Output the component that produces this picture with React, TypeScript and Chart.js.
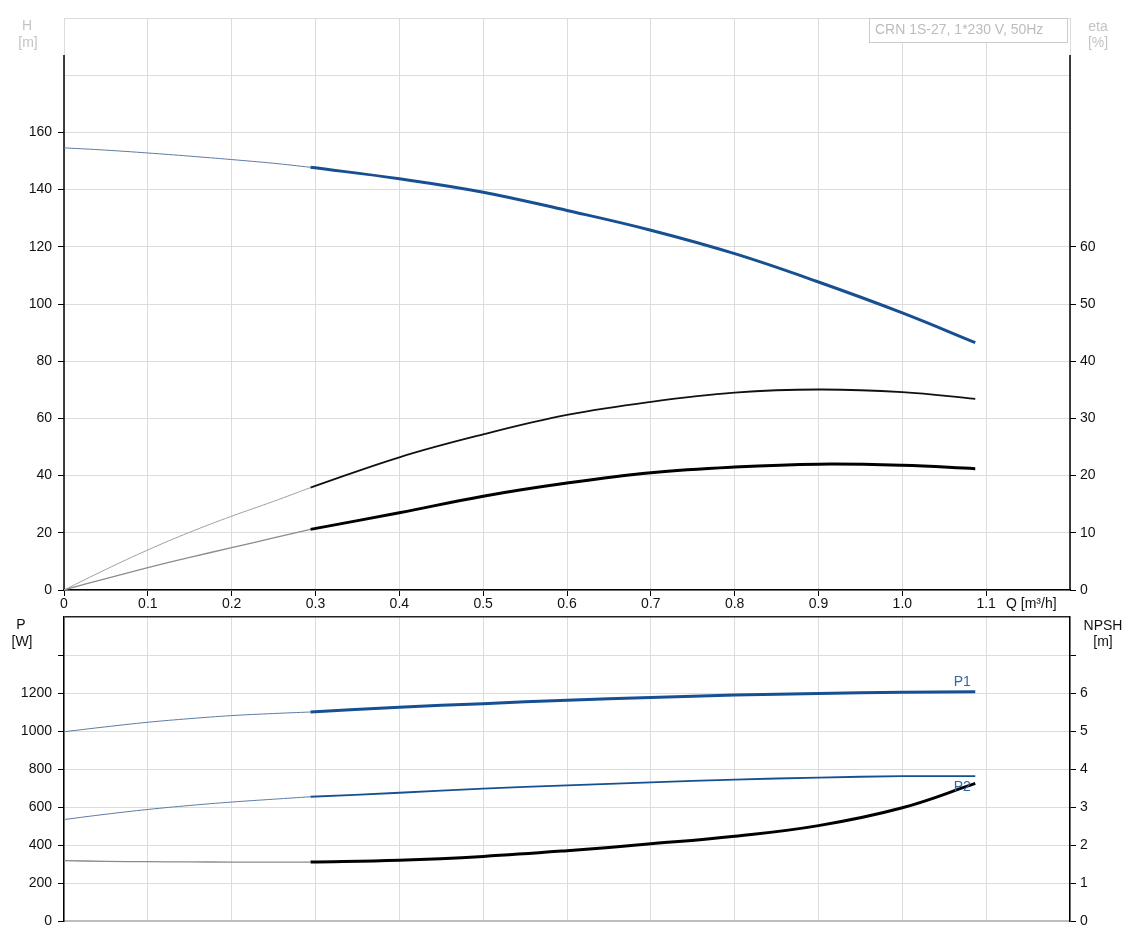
import React, { useEffect, useRef } from "react";
import { Chart, registerables } from "chart.js";
Chart.register(...registerables);

// Flow values (m³/h): thin (extrapolated) part and thick (operating range) part
const qThin = [0, 0.05, 0.1, 0.15, 0.2, 0.25, 0.294];
const qThick = [0.294, 0.4, 0.5, 0.6, 0.7, 0.8, 0.9, 1.0, 1.087];

// Head H [m]
const hThin = [154.6, 153.8, 152.8, 151.7, 150.5, 149.2, 147.8];
const hThick = [147.8, 143.8, 139.1, 132.7, 125.8, 117.6, 107.7, 96.9, 86.5];

// Efficiency eta [%] (upper and lower curves)
const etaThin = [0, 3.6, 7.0, 10.1, 12.9, 15.5, 17.9];
const etaThick = [17.9, 23.2, 27.2, 30.6, 32.9, 34.5, 35.05, 34.6, 33.4];
const eta2Thin = [0, 2.0, 3.9, 5.7, 7.4, 9.1, 10.6];
const eta2Thick = [10.6, 13.5, 16.4, 18.7, 20.5, 21.5, 22.0, 21.8, 21.2];

// Power P [W]
const p1Thin = [996, 1022, 1046, 1065, 1081, 1092, 1100];
const p1Thick = [1100, 1125, 1144, 1162, 1176, 1189, 1197, 1204, 1206];
const p2Thin = [534, 562, 587, 608, 626, 641, 654];
const p2Thick = [654, 675, 697, 714, 730, 744, 755, 762, 763];

// NPSH [m]
const npshThin = [1.59, 1.57, 1.56, 1.555, 1.55, 1.55, 1.55];
const npshThick = [1.55, 1.6, 1.7, 1.85, 2.03, 2.23, 2.51, 2.98, 3.62];

const legendText = "CRN 1S-27, 1*230 V, 50Hz";

const FONT_FAMILY = "Arial, 'Liberation Sans', sans-serif";
const GRID = "#dcdcdc";
const BLUE = "#175092";

function seg(q: number[], v: number[]) {
  return q.map((x, i) => ({ x, y: v[i] }));
}

function line(data: any, color: string, width: number, axis: string) {
  return {
    data,
    borderColor: color,
    backgroundColor: color,
    borderWidth: width,
    pointRadius: 0,
    tension: 0.4,
    yAxisID: axis,
    fill: false,
  };
}

const tickFont = { family: FONT_FAMILY, size: 14 };

function fitV(width: number) {
  return (s: any) => {
    s.width = width;
    s.paddingTop = 0;
    s.paddingBottom = 0;
  };
}
function fitH(height: number) {
  return (s: any) => {
    s.height = height;
    s.paddingLeft = 0;
    s.paddingRight = 0;
  };
}

export default function App() {
  const topRef = useRef<HTMLCanvasElement>(null);
  const botRef = useRef<HTMLCanvasElement>(null);

  useEffect(() => {
    const sideLines = {
      id: "sideLines",
      beforeDatasetsDraw(chart: any) {
        const { ctx, chartArea } = chart;
        ctx.save();
        ctx.strokeStyle = "#000";
        ctx.lineWidth = 1.5;
        ctx.beginPath();
        ctx.moveTo(chartArea.left, chartArea.top + 37);
        ctx.lineTo(chartArea.left, chartArea.bottom);
        ctx.moveTo(chartArea.right, chartArea.top + 37);
        ctx.lineTo(chartArea.right, chartArea.bottom);
        ctx.stroke();
        ctx.restore();
      },
    };
    const topText = {
      id: "topText",
      afterDraw(chart: any) {
        const { ctx } = chart;
        ctx.save();
        ctx.font = `14px ${FONT_FAMILY}`;
        ctx.textBaseline = "middle";
        ctx.textAlign = "center";
        ctx.fillStyle = "#c4c4c4";
        ctx.fillText("H", 27, 26);
        ctx.fillText("[m]", 28, 43);
        ctx.fillText("eta", 1098, 27);
        ctx.fillText("[%]", 1098, 43);
        // legend box
        ctx.fillStyle = "#fff";
        ctx.fillRect(869, 18, 198, 24);
        ctx.strokeStyle = "#cccccc";
        ctx.lineWidth = 1;
        ctx.strokeRect(869.5, 18.5, 198, 24);
        ctx.textAlign = "left";
        ctx.fillStyle = "#bcbcbc";
        ctx.fillText(legendText, 875, 30);
        // x axis title
        ctx.fillStyle = "#111";
        ctx.fillText("Q [m\u00b3/h]", 1006, 604);
        ctx.restore();
      },
    };
    const botText = {
      id: "botText",
      afterDraw(chart: any) {
        const { ctx, scales } = chart;
        ctx.save();
        ctx.font = `14px ${FONT_FAMILY}`;
        ctx.textBaseline = "middle";
        ctx.textAlign = "center";
        ctx.fillStyle = "#111";
        ctx.fillText("P", 21, 13);
        ctx.fillText("[W]", 22, 30);
        ctx.fillText("NPSH", 1103, 14);
        ctx.fillText("[m]", 1103, 30);
        const xl = scales.x.getPixelForValue(qThick[qThick.length - 1]) - 13;
        ctx.fillStyle = "#2f67a6";
        ctx.fillText("P1", xl, scales.y.getPixelForValue(p1Thick[p1Thick.length - 1]) - 10);
        ctx.fillText("P2", xl, scales.y.getPixelForValue(p2Thick[p2Thick.length - 1]) + 11);
        ctx.restore();
      },
    };

    const top = new Chart(topRef.current as HTMLCanvasElement, {
      type: "line",
      data: {
        datasets: [
          line(seg(qThin, hThin), "#5d7ba3", 1, "y"),
          line(seg(qThick, hThick), BLUE, 3, "y"),
          line(seg(qThin, etaThin), "#a0a0a0", 1, "y1"),
          line(seg(qThick, etaThick), "#111", 1.8, "y1"),
          line(seg(qThin, eta2Thin), "#8c8c8c", 1.3, "y1"),
          line(seg(qThick, eta2Thick), "#000", 3, "y1"),
        ] as any,
      },
      options: {
        animation: false,
        responsive: false,
        devicePixelRatio: 1,
        layout: { padding: { top: 18, left: 0, right: 0, bottom: 0 } },
        plugins: { legend: { display: false }, tooltip: { enabled: false } },
        scales: {
          x: {
            type: "linear",
            min: 0,
            max: 1.2,
            ticks: {
              stepSize: 0.1,
              autoSkip: false,
              maxRotation: 0,
              color: "#111",
              font: tickFont,
              padding: 0,
              callback: (v: any) => (v > 1.15 ? "" : v === 0 ? "0" : Number(v).toFixed(1)),
            },
            grid: {
              color: GRID,
              tickLength: 6,
              tickColor: (c: any) => (c.tick && c.tick.value > 1.15 ? "transparent" : "#000"),
            },
            border: { color: "#000", width: 1.5 },
            afterFit: fitH(22),
          },
          y: {
            type: "linear",
            position: "left",
            min: 0,
            max: 200,
            ticks: {
              stepSize: 20,
              color: "#111",
              font: tickFont,
              padding: 6,
              callback: (v: any) => (v > 160 ? "" : String(v)),
            },
            grid: {
              color: GRID,
              tickLength: 6,
              tickColor: (c: any) => (c.tick && c.tick.value > 160 ? "transparent" : "#000"),
            },
            border: { display: false },
            afterFit: fitV(64),
          },
          y1: {
            type: "linear",
            position: "right",
            min: 0,
            max: 100,
            ticks: {
              stepSize: 10,
              color: "#111",
              font: tickFont,
              padding: 4,
              callback: (v: any) => (v > 60 ? "" : String(v)),
            },
            grid: {
              drawOnChartArea: false,
              tickLength: 6,
              tickColor: (c: any) => (c.tick && c.tick.value > 60 ? "transparent" : "#000"),
            },
            border: { display: false },
            afterFit: fitV(60),
          },
        },
      } as any,
      plugins: [sideLines, topText],
    });

    const bot = new Chart(botRef.current as HTMLCanvasElement, {
      type: "line",
      data: {
        datasets: [
          line(seg(qThin, p1Thin), "#5d7ba3", 1, "y"),
          line(seg(qThick, p1Thick), BLUE, 3, "y"),
          line(seg(qThin, p2Thin), "#5d7ba3", 1, "y"),
          line(seg(qThick, p2Thick), BLUE, 1.8, "y"),
          line(seg(qThin, npshThin), "#8a8a8a", 1.3, "y1"),
          line(seg(qThick, npshThick), "#000", 3, "y1"),
        ] as any,
      },
      options: {
        animation: false,
        responsive: false,
        devicePixelRatio: 1,
        layout: { padding: { top: 5, left: 0, right: 0, bottom: 0 } },
        plugins: { legend: { display: false }, tooltip: { enabled: false } },
        scales: {
          x: {
            type: "linear",
            min: 0,
            max: 1.2,
            ticks: { stepSize: 0.1, autoSkip: false, display: false },
            grid: { color: GRID, drawTicks: false },
            border: { color: "#bdbdbd", width: 2 },
            afterFit: fitH(24),
          },
          y: {
            type: "linear",
            position: "left",
            min: 0,
            max: 1600,
            ticks: {
              stepSize: 200,
              color: "#111",
              font: tickFont,
              padding: 6,
              callback: (v: any) => (v > 1200 ? "" : String(v)),
            },
            grid: {
              color: (c: any) => (c.tick && c.tick.value >= 1600 ? "#222" : GRID),
              lineWidth: (c: any) => (c.tick && c.tick.value >= 1600 ? 1.5 : 1),
              tickLength: 6,
              tickColor: (c: any) => (c.tick && c.tick.value >= 1600 ? "transparent" : "#000"),
            },
            border: { color: "#000", width: 1.5 },
            afterFit: fitV(64),
          },
          y1: {
            type: "linear",
            position: "right",
            min: 0,
            max: 8,
            ticks: {
              stepSize: 1,
              color: "#111",
              font: tickFont,
              padding: 4,
              callback: (v: any) => (v > 6 ? "" : String(v)),
            },
            grid: {
              drawOnChartArea: false,
              tickLength: 6,
              tickColor: (c: any) => (c.tick && c.tick.value >= 8 ? "transparent" : "#000"),
            },
            border: { color: "#000", width: 1.5 },
            afterFit: fitV(60),
          },
        },
      } as any,
      plugins: [botText],
    });

    return () => {
      top.destroy();
      bot.destroy();
    };
  }, []);

  return (
    <div style={{ position: "absolute", left: 0, top: 0, width: 1130, height: 945, background: "#fff" }}>
      <canvas
        ref={topRef}
        width={1130}
        height={612}
        style={{ position: "absolute", left: 0, top: 0, width: 1130, height: 612, display: "block" }}
      />
      <canvas
        ref={botRef}
        width={1130}
        height={333}
        style={{ position: "absolute", left: 0, top: 612, width: 1130, height: 333, display: "block" }}
      />
    </div>
  );
}
